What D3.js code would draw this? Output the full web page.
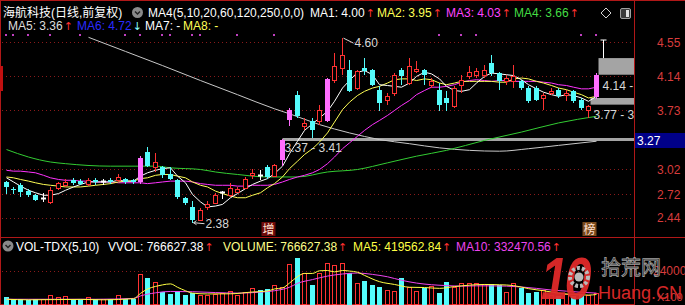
<!DOCTYPE html>
<html lang="zh">
<head>
<meta charset="UTF-8">
<title>海航科技 日线</title>
<style>
  * { margin: 0; padding: 0; }
  body { background: #000; width: 685px; height: 305px; overflow: hidden; }
  svg { display: block; font-family: "Liberation Sans", Arial, "Noto Sans CJK SC", sans-serif; }
</style>
</head>
<body>
<div id="chart"></div>
<script src="https://cdn.jsdelivr.net/npm/d3@7/dist/d3.min.js"></script>
<script>
"use strict";

// daily candles (price, CNY)
var opens = [2.87,2.79,2.83,2.76,2.71,2.68,2.63,2.80,2.83,2.89, 2.88,2.85,2.89,2.88,2.89,2.89,2.91,2.89,2.87,3.23,
             3.05,3.05,2.97,2.89,2.68,2.57,2.41,2.57,2.62,2.75, 2.71,2.75,2.80,2.95,2.95,3.05,2.94,3.14,3.62,3.92,
             3.54,3.60,3.60,3.60,4.10,4.24,4.22,4.00,4.24,4.22, 3.98,3.85,3.94,4.22,4.06,4.20,4.22,4.04,3.98,3.88,
             3.78,4.04,4.15,4.16,4.16,4.30,4.18,4.08,4.08,4.08, 4.00,4.00,3.88,3.94,3.98,3.92,3.96,3.86,3.74,3.89];
var highs = [2.88,2.81,2.86,2.78,2.73,2.74,2.81,2.87,2.91,2.92, 2.91,2.92,2.92,2.91,2.92,2.96,2.92,2.91,3.18,3.29,
             3.22,3.06,3.05,2.91,2.69,2.64,2.56,2.64,2.74,2.76, 2.86,2.81,2.93,3.02,3.01,3.07,3.09,3.39,3.76,3.96,
             3.64,3.64,3.80,4.12,4.42,4.60,4.34,4.22,4.36,4.23, 4.02,3.94,4.18,4.24,4.36,4.32,4.23,4.12,4.06,3.96,
             4.02,4.16,4.26,4.24,4.28,4.40,4.19,4.16,4.28,4.10, 4.02,4.02,3.94,4.00,4.00,3.98,3.98,3.88,3.80,4.18];
var lows = [2.73,2.73,2.69,2.69,2.64,2.63,2.61,2.77,2.81,2.83, 2.83,2.82,2.83,2.83,2.84,2.87,2.84,2.84,2.85,3.05,
            2.99,2.92,2.89,2.67,2.59,2.38,2.40,2.53,2.61,2.66, 2.69,2.74,2.78,2.91,2.89,2.90,2.93,3.06,3.54,3.64,
            3.50,3.40,3.56,3.59,4.06,4.16,3.95,3.98,4.16,4.02, 3.72,3.80,3.90,4.04,4.04,4.18,4.04,4.00,3.72,3.72,
            3.76,3.94,4.11,4.12,4.12,4.14,3.98,4.04,4.00,3.98, 3.82,3.84,3.74,3.92,3.88,3.84,3.82,3.74,3.64,3.87];
var closes = [2.81,2.77,2.75,2.71,2.65,2.68,2.77,2.86,2.87,2.86, 2.85,2.89,2.87,2.88,2.87,2.93,2.87,2.87,3.16,3.06,
              3.11,2.95,2.91,2.69,2.62,2.41,2.53,2.61,2.71,2.75, 2.80,2.78,2.91,2.98,2.95,2.93,3.07,3.38,3.74,3.66,
              3.58,3.50,3.74,4.11,4.26,4.40,3.96,4.20,4.20,4.04, 3.82,3.90,4.16,4.14,4.26,4.23,4.16,4.08,3.80,3.82,
              4.00,4.10,4.19,4.20,4.22,4.18,4.08,4.12,4.14,4.00, 3.84,3.86,3.92,3.96,3.90,3.94,3.84,3.76,3.78,4.16];
var limitUp = [18, 37, 38, 43, 79];

// volume, 万手
var volumes = [48,34,34,29,34,34,64,52,57,34, 34,52,34,34,34,64,34,34,213,188,
               160,88,69,93,64,77,64,64,69,77, 93,64,86,112,100,105,136,124,287,327,
               220,136,220,296,279,294,220,150,167,136, 122,100,93,186,122,93,115,129,79,158,
               122,150,150,150,143,143,136,86,150,115, 79,86,100,64,57,72,57,72,64,77];

// moving averages
var ma1 = [2.92,2.87,2.82,2.77,2.74,2.71,2.71,2.73,2.77,2.81, 2.84,2.87,2.87,2.87,2.87,2.89,2.88,2.88,2.94,2.98,
           3.01,3.03,3.04,2.94,2.86,2.72,2.63,2.57,2.58,2.60, 2.68,2.73,2.79,2.84,2.88,2.91,2.97,3.06,3.21,3.36,
           3.49,3.57,3.64,3.72,3.84,4.00,4.09,4.19,4.21,4.16, 4.04,4.03,4.02,4.01,4.06,4.14,4.19,4.17,4.11,4.02,
           3.97,3.96,3.98,4.06,4.14,4.18,4.17,4.16,4.15,4.10, 4.04,3.99,3.95,3.92,3.90,3.92,3.91,3.88,3.84,3.90];
var ma2 = [2.93,2.92,2.90,2.88,2.86,2.84,2.83,2.82,2.81,2.81, 2.81,2.82,2.83,2.84,2.85,2.87,2.88,2.88,2.91,2.92,
           2.95,2.96,2.96,2.94,2.92,2.87,2.83,2.81,2.76,2.73, 2.70,2.68,2.68,2.71,2.74,2.80,2.85,2.93,3.03,3.12,
           3.20,3.27,3.35,3.46,3.59,3.74,3.83,3.91,3.96,4.00, 4.02,4.06,4.10,4.11,4.11,4.09,4.11,4.10,4.06,4.04,
           4.06,4.08,4.08,4.08,4.08,4.08,4.07,4.07,4.11,4.12, 4.11,4.08,4.06,4.03,4.00,3.98,3.95,3.92,3.88,3.90];
var ma3 = [3.01,3.00,3.00,2.99,2.98,2.95,2.92,2.90,2.89,2.89, 2.88,2.88,2.87,2.87,2.87,2.86,2.86,2.86,2.86,2.85,
           2.86,2.87,2.88,2.88,2.88,2.87,2.85,2.84,2.83,2.83, 2.83,2.82,2.82,2.83,2.83,2.83,2.84,2.87,2.90,2.93,
           2.95,2.98,3.02,3.09,3.17,3.27,3.34,3.42,3.49,3.56, 3.61,3.67,3.73,3.79,3.85,3.92,3.97,4.01,4.01,4.02,
           4.04,4.07,4.09,4.10,4.09,4.08,4.09,4.09,4.08,4.08, 4.08,4.08,4.07,4.06,4.04,4.03,4.01,3.99,3.99,4.01];
// [day index, value]
var ma4Pts = [[0,3.26],[3,3.17],[6,3.11],[8,3.09],[14,3.06],[20,3.06],[22,3.04],[26,3.02],[28,2.99],[31,2.96],
              [35,2.93],[39,2.93],[43,2.99],[47,3.02],[51,3.10],[55,3.18],[59,3.25],[64,3.37],[69,3.47],[74,3.58],[79,3.66]];
var ma5Pts = [[11,4.61],[16,4.44],[21,4.27],[26,4.09],[31,3.92],[36,3.75],[38,3.69],[42,3.56],[46,3.46],[50,3.38],
              [54,3.33],[58,3.28],[62,3.25],[66,3.24],[70,3.27],[74,3.31],[79,3.36]];
var volMa5Pts = [[0,34],[3,30],[10,33],[13,30],[17,38],[18,76],[19,107],[20,126],[21,137],[22,144],[23,120],[24,95],
                 [25,78],[27,72],[30,73],[33,86],[35,93],[36,108],[37,115],[38,150],[39,196],[40,219],[41,219],[42,238],
                 [43,240],[44,230],[45,240],[46,236],[47,228],[48,205],[50,160],[52,140],[54,120],[56,118],[58,112],
                 [60,125],[62,135],[64,140],[66,138],[68,132],[70,110],[72,95],[74,78],[76,68],[78,64],[79,68]];
var volMa10Pts = [[0,34],[12,34],[17,40],[18,58],[20,80],[22,90],[25,88],[28,82],[31,78],[34,85],[36,95],[38,120],
                  [39,148],[41,175],[43,200],[45,215],[47,222],[49,212],[51,195],[53,170],[55,150],[57,138],[59,132],
                  [61,128],[63,130],[65,130],[67,128],[69,122],[71,112],[73,100],[75,92],[77,84],[79,78]];

var priceTicks = [4.55, 4.14, 3.73, 3.02, 2.72, 2.44];
var volTicks = [240];
var infoDays = [0, 1, 3, 6, 10, 16, 18, 21, 22, 25, 26, 31, 36, 58, 61, 63, 77, 79];

var titleText = '海航科技(日线,前复权)';
var maSetText = 'MA4(5,10,20,60,120,250,0,0)';
var legendTop = [
  {t: 'MA1: 4.00', c: '#ffffff', a: '↑', ac: '#ff3030', x: 310, yy: 17},
  {t: 'MA2: 3.95', c: '#ffff55', a: '↑', ac: '#ff3030', x: 377, yy: 17},
  {t: 'MA3: 4.03', c: '#ff44ff', a: '↑', ac: '#ff3030', x: 446, yy: 17},
  {t: 'MA4: 3.66', c: '#44dd44', a: '↑', ac: '#ff3030', x: 514, yy: 17},
  {t: 'MA5: 3.36', c: '#dddddd', a: '↑', ac: '#ff3030', x: 8, yy: 30},
  {t: 'MA6: 4.72', c: '#2a2aff', a: '↓', ac: '#88ffff', x: 77, yy: 30},
  {t: 'MA7: -', c: '#ffffff', a: '', x: 145, yy: 30},
  {t: 'MA8: -', c: '#ffff55', a: '', x: 183, yy: 30}
];
var legendVol = [
  {t: 'VOL-TDX(5,10)', c: '#ffffff', a: '', x: 16},
  {t: 'VVOL: 766627.38', c: '#ffffff', a: '↑', ac: '#ff3030', x: 108},
  {t: 'VOLUME: 766627.38', c: '#ffff88', a: '↑', ac: '#ff3030', x: 223},
  {t: 'MA5: 419562.84', c: '#ffff44', a: '↑', ac: '#ff3030', x: 353},
  {t: 'MA10: 332470.56', c: '#ee44ee', a: '↑', ac: '#ff3030', x: 456}
];

var n = closes.length;
var RED = '#ff3232', CYAN = '#54fcfc', PINK = '#ff6eff', FRAME = '#b01818';

var svg = d3.select('#chart').append('svg').attr('width', 685).attr('height', 305);
svg.append('rect').attr('width', 685).attr('height', 305).attr('fill', '#000');

var defs = svg.append('defs');
defs.append('clipPath').attr('id', 'clipPrice').append('rect')
  .attr('x', 2).attr('y', 33).attr('width', 632).attr('height', 203);
defs.append('clipPath').attr('id', 'clipVol').append('rect')
  .attr('x', 2).attr('y', 258).attr('width', 632).attr('height', 47);

var x = d3.scaleBand().domain(d3.range(n)).range([1.8, 599.4]);
function cx(i) { return Math.round(x(i) + x.bandwidth() / 2) + 0.5; }
var y = d3.scaleLinear().domain([2.44, 4.55]).range([217.7, 42.3]);
var yv = d3.scaleLinear().domain([0, 240]).range([304, 270.5]);

function isUp(i) {
  if (closes[i] !== opens[i]) return closes[i] > opens[i];
  return i === 0 || closes[i] >= closes[i - 1];
}

// grid
svg.append('g').selectAll('line').data(priceTicks).join('line')
  .attr('x1', 2).attr('x2', 634)
  .attr('y1', function(d) { return Math.round(y(d)) + 0.5; })
  .attr('y2', function(d) { return Math.round(y(d)) + 0.5; })
  .attr('stroke', '#8a1a1a').attr('stroke-dasharray', '1,3');
svg.append('g').selectAll('line').data(volTicks).join('line')
  .attr('x1', 2).attr('x2', 634)
  .attr('y1', function(d) { return Math.round(yv(d)) + 0.5; })
  .attr('y2', function(d) { return Math.round(yv(d)) + 0.5; })
  .attr('stroke', '#8a1a1a').attr('stroke-dasharray', '1,3');

// info markers
svg.append('g').selectAll('rect').data(infoDays).join('rect')
  .attr('x', function(d) { return cx(d) - 1.5; }).attr('y', 34)
  .attr('width', 2).attr('height', 2).attr('fill', '#c040c0');

// frame
var frame = svg.append('g').attr('stroke', FRAME).attr('stroke-width', 1);
frame.append('line').attr('x1', 0).attr('x2', 685).attr('y1', 0.5).attr('y2', 0.5);
frame.append('line').attr('x1', 0.5).attr('x2', 0.5).attr('y1', 0).attr('y2', 305);
frame.append('line').attr('x1', 634.5).attr('x2', 634.5).attr('y1', 0).attr('y2', 305);
frame.append('line').attr('x1', 0).attr('x2', 685).attr('y1', 237.5).attr('y2', 237.5);
frame.append('line').attr('x1', 0).attr('x2', 634).attr('y1', 304.5).attr('y2', 304.5);
svg.append('rect').attr('x', 0).attr('y', 66).attr('width', 3).attr('height', 25).attr('fill', '#c01010');

// chip range bar and boxes
var plot = svg.append('g').attr('clip-path', 'url(#clipPrice)');
plot.append('rect').attr('x', cx(37)).attr('y', Math.round(y(3.39)) - 1)
  .attr('width', 634 - cx(37)).attr('height', 3).attr('fill', '#a4a4a4');
plot.append('rect').attr('x', cx(79) + 2).attr('y', y(4.36))
  .attr('width', 634 - cx(79) - 2).attr('height', y(4.16) - y(4.36)).attr('fill', '#a4a4a4');
plot.append('rect').attr('x', cx(78) + 2).attr('y', y(3.88))
  .attr('width', 634 - cx(78) - 2).attr('height', y(3.80) - y(3.88)).attr('fill', '#a4a4a4');
plot.append('path')
  .attr('d', 'M' + (cx(79) + 4) + ',' + Math.round(y(4.58)) + 'h6M' + (cx(79) + 7) + ',' + Math.round(y(4.58)) + 'V' + y(4.36))
  .attr('stroke', '#ffffff').attr('fill', 'none');

// moving average lines
function lineOf(arr) {
  return d3.line().x(function(d, i) { return cx(i); }).y(function(d) { return y(d); })(arr);
}
var ptLine = d3.line().x(function(d) { return cx(d[0]); }).y(function(d) { return y(d[1]); }).curve(d3.curveMonotoneX);
plot.append('path').attr('d', ptLine(ma5Pts)).attr('stroke', '#c8c8c8').attr('fill', 'none');
plot.append('path').attr('d', ptLine(ma4Pts)).attr('stroke', '#33cc33').attr('fill', 'none');
plot.append('path').attr('d', lineOf(ma3)).attr('stroke', '#ff33ff').attr('fill', 'none');
plot.append('path').attr('d', lineOf(ma2)).attr('stroke', '#ffff55').attr('fill', 'none');
plot.append('path').attr('d', lineOf(ma1)).attr('stroke', '#ffffff').attr('fill', 'none');

// candles
plot.append('g').selectAll('g').data(d3.range(n)).join('g').each(function(i) {
  var g = d3.select(this);
  var o = opens[i], c = closes[i];
  var top = Math.round(y(Math.max(o, c))), bot = Math.round(y(Math.min(o, c)));
  var hy = Math.round(y(highs[i])), ly = Math.round(y(lows[i]));
  var xc = cx(i);
  if (limitUp.indexOf(i) >= 0) {
    g.append('line').attr('x1', xc).attr('x2', xc).attr('y1', hy).attr('y2', ly).attr('stroke', PINK);
    g.append('rect').attr('x', xc - 2.5).attr('y', top).attr('width', 5).attr('height', Math.max(1, bot - top)).attr('fill', PINK);
  } else if (c > o) {
    g.append('line').attr('x1', xc).attr('x2', xc).attr('y1', hy).attr('y2', top).attr('stroke', RED);
    g.append('line').attr('x1', xc).attr('x2', xc).attr('y1', bot).attr('y2', ly).attr('stroke', RED);
    g.append('rect').attr('x', xc - 2).attr('y', top + 0.5).attr('width', 4).attr('height', Math.max(1, bot - top))
      .attr('fill', '#000').attr('stroke', RED);
  } else if (c < o) {
    g.append('line').attr('x1', xc).attr('x2', xc).attr('y1', hy).attr('y2', ly).attr('stroke', CYAN);
    g.append('rect').attr('x', xc - 2.5).attr('y', top).attr('width', 5).attr('height', Math.max(1, bot - top)).attr('fill', CYAN);
  } else {
    g.append('line').attr('x1', xc).attr('x2', xc).attr('y1', hy).attr('y2', ly).attr('stroke', '#ffffff');
    g.append('line').attr('x1', xc - 2.5).attr('x2', xc + 2.5).attr('y1', top + 0.5).attr('y2', top + 0.5)
      .attr('stroke', '#ffffff').attr('stroke-width', 2);
  }
});

// high / low marks
var hiI = d3.maxIndex(highs), loI = d3.minIndex(lows);
var marks = svg.append('g').attr('fill', '#d8d8d8').attr('font-size', 12);
marks.append('path')
  .attr('d', 'M' + (cx(hiI) + 1) + ',' + y(highs[hiI]) + 'L' + (cx(hiI) + 11) + ',' + (y(highs[hiI]) + 5))
  .attr('stroke', '#d8d8d8').attr('fill', 'none');
marks.append('text').attr('x', cx(hiI) + 12).attr('y', y(highs[hiI]) + 9).text(highs[hiI].toFixed(2));
marks.append('path')
  .attr('d', 'M' + (cx(loI) + 1) + ',' + y(lows[loI]) + 'L' + (cx(loI) + 12) + ',' + (y(lows[loI]) + 1) +
        'M' + (cx(loI) + 1) + ',' + y(lows[loI]) + 'l3,-2M' + (cx(loI) + 1) + ',' + y(lows[loI]) + 'l3,2')
  .attr('stroke', '#d8d8d8').attr('fill', 'none');
marks.append('text').attr('x', cx(loI) + 13).attr('y', y(lows[loI]) + 5).text(lows[loI].toFixed(2));
marks.append('text').attr('x', cx(37) + 2).attr('y', y(3.39) + 13).text('3.37 - 3.41');
marks.append('text').attr('x', cx(79) + 6).attr('y', y(4.03) + 4).text('4.14 -');
marks.append('text').attr('x', cx(78) + 5).attr('y', y(3.67) + 4).text('3.77 - 3');

// 增 / 榜 tags
function tag(i, txt, bg) {
  var g = svg.append('g');
  g.append('rect').attr('x', cx(i) - 6).attr('y', 222).attr('width', 14).attr('height', 14).attr('fill', bg);
  g.append('text').attr('x', cx(i) + 1).attr('y', 234).attr('text-anchor', 'middle')
    .attr('font-size', 12).attr('font-family', 'Noto Sans CJK SC').attr('fill', '#ffe0d0').text(txt);
}
tag(35, '增', '#6e0a0a');
tag(78, '榜', '#7a4a1c');

// volume bars
var vol = svg.append('g').attr('clip-path', 'url(#clipVol)');
vol.selectAll('g').data(d3.range(n)).join('g').each(function(i) {
  var g = d3.select(this), xc = cx(i), top = Math.round(yv(volumes[i]));
  if (isUp(i)) {
    g.append('rect').attr('x', xc - 2).attr('y', top + 0.5).attr('width', 4).attr('height', 304 - top)
      .attr('fill', '#000').attr('stroke', RED);
  } else {
    g.append('rect').attr('x', xc - 2.5).attr('y', top).attr('width', 5).attr('height', 305 - top).attr('fill', CYAN);
  }
});
var vLine = d3.line().x(function(d) { return cx(d[0]); }).y(function(d) { return yv(d[1]); }).curve(d3.curveMonotoneX);
vol.append('path').attr('d', vLine(volMa10Pts)).attr('stroke', '#ee44ee').attr('fill', 'none');
vol.append('path').attr('d', vLine(volMa5Pts)).attr('stroke', '#ffff44').attr('fill', 'none');

// right axes
var axP = svg.append('g').attr('transform', 'translate(650,0)')
  .call(d3.axisRight(y).tickValues(priceTicks).tickSize(0).tickPadding(7).tickFormat(d3.format('.2f')));
axP.select('.domain').remove();
axP.selectAll('text').attr('fill', '#d83c3c').attr('font-size', 12).attr('font-family', 'Liberation Sans');

var axV = svg.append('g').attr('transform', 'translate(650,0)')
  .call(d3.axisRight(yv).tickValues(volTicks).tickSize(0).tickPadding(3)
    .tickFormat(function(d) { return d3.format('d')(d * 100); }));
axV.select('.domain').remove();
axV.selectAll('text').attr('fill', '#d83c3c').attr('font-size', 12).attr('font-family', 'Liberation Sans');
svg.append('text').attr('x', 657).attr('y', 301).attr('fill', '#d83c3c').attr('font-size', 11).text('X100');

// cursor price box
var cursor = svg.append('g');
cursor.append('rect').attr('x', 635).attr('y', Math.round(y(3.37)) - 7).attr('width', 50).attr('height', 15).attr('fill', '#000088');
cursor.append('text').attr('x', 637).attr('y', Math.round(y(3.37)) + 5).attr('fill', '#ffffff').attr('font-size', 12).text('3.27');

// legends
var lg = svg.append('g').attr('font-size', 12);
lg.append('text').attr('x', 3).attr('y', 16.5).attr('fill', '#ffffff').text(titleText);
function icon(cx0, cy0) {
  lg.append('circle').attr('cx', cx0).attr('cy', cy0).attr('r', 5.5).attr('fill', '#8a8a8a');
  lg.append('path').attr('d', 'M' + (cx0 - 2.5) + ',' + (cy0 - 1) + 'l2.5,2.5l2.5,-2.5')
    .attr('stroke', '#222').attr('stroke-width', 1.5).attr('fill', 'none');
}
icon(137.5, 12.5);
lg.append('text').attr('x', 148).attr('y', 17).attr('fill', '#ffffff').text(maSetText);
function legendRow(items, yy) {
  items.forEach(function(d) {
    var t = lg.append('text').attr('x', d.x).attr('y', d.yy || yy).attr('fill', d.c).text(d.t);
    if (d.a) {
      var w = t.node().getComputedTextLength();
      lg.append('text').attr('x', d.x + w + 1).attr('y', d.yy || yy).attr('fill', d.ac)
        .attr('font-family', 'DejaVu Sans').attr('font-size', 11).text(d.a);
    }
  });
}
legendRow(legendTop, 17);
icon(8, 246);
legendRow(legendVol, 251);

// top right buttons
lg.append('path').attr('d', 'M606,8l5,5l-5,5l-5,-5z').attr('stroke', '#d0d0d0').attr('fill', 'none');
lg.append('rect').attr('x', 620.5).attr('y', 8.5).attr('width', 10).attr('height', 10).attr('rx', 1.5)
  .attr('fill', '#3a3a3a').attr('stroke', '#a0a0a0');
lg.append('rect').attr('x', 626).attr('y', 10).attr('width', 3).attr('height', 7).attr('fill', '#e0e0e0');

// watermark
var wm = svg.append('g').attr('opacity', 0.95);
wm.append('text').attr('transform', 'translate(541,299) scale(1,1.25)').attr('fill', '#e02a2a').attr('font-size', 48)
  .attr('font-weight', 'bold').attr('font-style', 'italic').attr('letter-spacing', -3).text('10');
wm.append('circle').attr('cx', 579).attr('cy', 277).attr('r', 9).attr('fill', 'none')
  .attr('stroke', '#c4c4c4').attr('stroke-width', 4).attr('stroke-dasharray', '3,2');
wm.append('circle').attr('cx', 579).attr('cy', 277).attr('r', 4.5).attr('fill', '#c4c4c4');
wm.append('text').attr('x', 601).attr('y', 275).attr('fill', '#111').attr('stroke', '#a8a8a8').attr('stroke-width', 0.8)
  .attr('font-size', 20).attr('font-family', 'Noto Sans CJK SC').text('拾荒网');
wm.append('text').attr('x', 598).attr('y', 299).attr('fill', '#e02a2a').attr('font-size', 18).text('Huang.CN');
</script>
</body>
</html>
